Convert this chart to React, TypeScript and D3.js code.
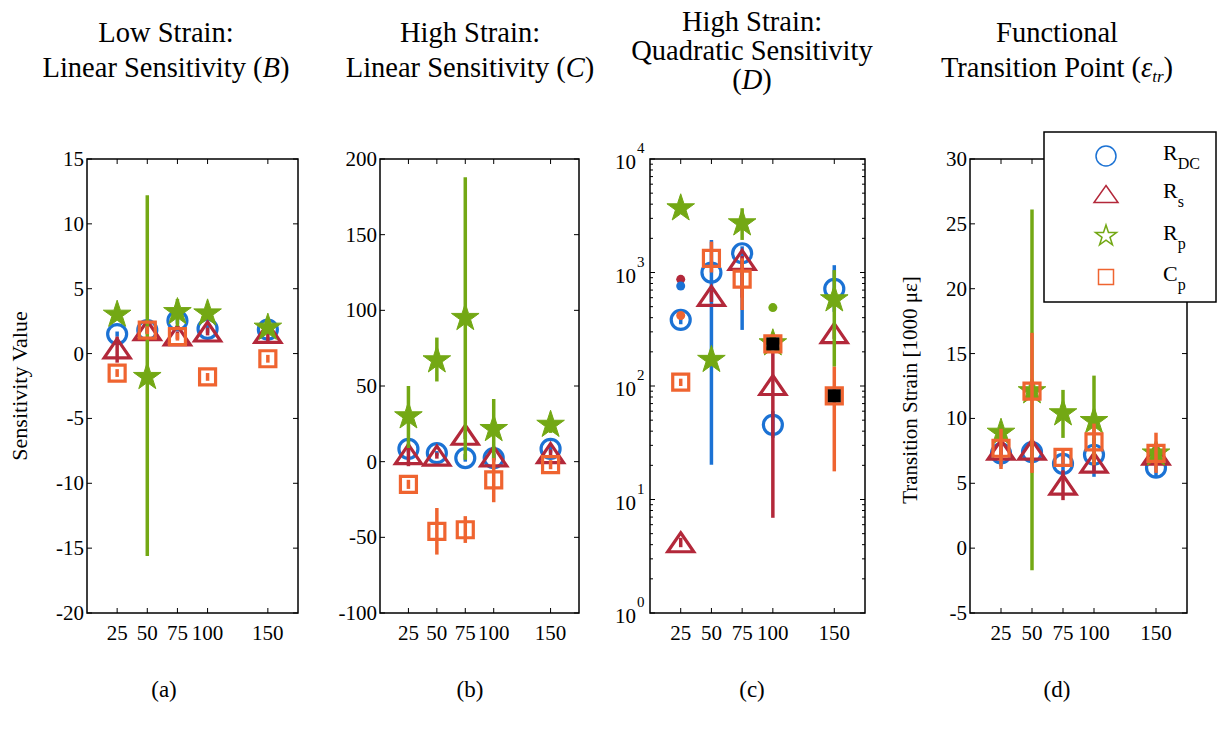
import React from "react";
import * as d3 from "d3";

const FONT = "'Liberation Serif', 'Times New Roman', serif";

const strains = [25, 50, 75, 100, 150];
const xTickValues = [25, 50, 75, 100, 150];
const seriesKeys = ["RDC", "Rs", "Rp", "Cp"];
const seriesColors = ["#1b72d4", "#b3283a", "#73a814", "#ef6430"];
const seriesShapes = ["circle", "triangle", "star", "square"];

// each entry: [value, errLow, errHigh] for strains 25, 50, 75, 100, 150
// (a) Low strain linear sensitivity B
const aRdc = [[1.5, 1.3, 1.7], [1.8, 1.5, 2.1], [2.55, 2.3, 2.8], [1.9, 1.6, 2.2], [1.85, 1.6, 2.1]];
const aRs = [[0.4, -0.7, 1.3], [1.8, 1.6, 2.0], [1.4, 1.1, 1.7], [1.7, 1.4, 2.0], [1.6, 0.9, 1.9]];
const aRp = [[3.0, 2.7, 3.3], [-1.8, -15.6, 12.2], [3.2, 2.1, 4.2], [3.1, 2.8, 3.4], [2.0, 1.7, 2.3]];
const aCp = [[-1.5, -1.8, -1.2], [1.8, 1.5, 2.1], [1.3, 1.0, 1.6], [-1.8, -2.1, -1.5], [-0.4, -0.7, -0.1]];
// (b) High strain linear sensitivity C
const bRdc = [[8.4, 6, 11], [5.7, 4, 7], [2.4, 0, 5], [2.4, 0, 5], [8.4, 6, 11]];
const bRs = [[5, -3, 12], [4, 2, 6], [17.8, 15, 20], [3.5, 1, 6], [5.7, 3, 8]];
const bRp = [[30, 9, 50], [67, 53, 82], [95, 1.3, 188], [21.6, 1.3, 41.4], [24.4, 19, 30]];
const bCp = [[-15, -18, -12], [-46, -61.4, -30.6], [-45, -53.7, -36], [-12, -26.8, 2.4], [-2, -5, 1]];
// (c) High strain quadratic sensitivity D (log scale)
const cRdc = [[383, 350, 420], [998, 20.2, 1936], [1478, 312, 1700], [45.5, 35, 60], [717, 450, 1160]];
const cRs = [[4.2, 3.8, 4.6], [622, 550, 700], [1290, 600, 1400], [102, 6.9, 200], [292, 260, 320]];
const cRp = [[3680, 3300, 4000], [170, 150, 190], [2714, 1936, 3680], [238, 210, 260], [581, 148, 1050]];
const cCp = [[108, 100, 116], [1334, 1000, 1870], [873, 467, 1334], [235, 215, 255], [82, 17.7, 148]];
const cDotStrain = [25, 25, 25, 100];
const cDotValue = [870, 760, 418, 491];
const cDotSeries = [1, 0, 3, 2];
const cBlackStrain = [100, 150];
const cBlackValue = [235, 82];
// (d) Functional transition point (1000 microstrain)
const dRdc = [[7.3, 6.3, 8.3], [7.4, 6.5, 8.3], [6.5, 5.8, 7.2], [7.2, 5.5, 8.5], [6.2, 5.5, 6.9]];
const dRs = [[7.6, 7.0, 8.2], [7.6, 7.0, 8.2], [4.9, 3.7, 6.0], [6.6, 5.9, 7.3], [7.2, 6.6, 7.8]];
const dRp = [[8.9, 8.3, 9.5], [12.1, -1.7, 26.1], [10.4, 8.5, 12.2], [9.8, 6.4, 13.3], [7.3, 6.8, 7.8]];
const dCp = [[7.7, 6.1, 9.2], [12.1, 5.8, 16.6], [7.0, 6.5, 7.5], [8.2, 6.4, 9.6], [7.3, 5.8, 8.9]];

const aTicks = [-20, -15, -10, -5, 0, 5, 10, 15];
const bTicks = [-100, -50, 0, 50, 100, 150, 200];
const cTicks = [1, 10, 100, 1000, 10000];
const dTicks = [-5, 0, 5, 10, 15, 20, 25, 30];

const TOP = 159;
const BOTTOM = 613;

function markerPath(shape: string, big: boolean) {
  if (shape === "triangle") {
    const w = big ? 13 : 12, h = big ? 9.5 : 8.5;
    return `M0,${-h}L${w},${h}L${-w},${h}Z`;
  }
  if (shape === "square") {
    const s = big ? 8 : 7.5;
    return `M${-s},${-s}H${s}V${s}H${-s}Z`;
  }
  if (shape === "star") {
    const R = big ? 14.5 : 11;
    return d3.symbol(d3.symbolStar, (R * R) / 0.8908130915292852)() as string;
  }
  return "";
}

function Marker({ shape, color, x, y, big }: any) {
  if (shape === "circle") {
    return <circle cx={x} cy={y} r={big ? 9.5 : 10} fill="none" stroke={color} strokeWidth={big ? 3.2 : 1.5} />;
  }
  const d = markerPath(shape, big);
  if (shape === "star") {
    return big ? (
      <path d={d} transform={`translate(${x},${y})`} fill={color} stroke={color} strokeWidth={1} />
    ) : (
      <path d={d} transform={`translate(${x},${y})`} fill="none" stroke={color} strokeWidth={1.5} />
    );
  }
  return <path d={d} transform={`translate(${x},${y})`} fill="none" stroke={color} strokeWidth={big ? 3.2 : 1.5} />;
}

function Panel({ x0, x1, series, yScale, yTicks, log, extras }: any) {
  const xs = d3.scaleLinear().domain([0, 175]).range([x0, x1]);
  const tl = 5;
  const minor: number[] = [];
  if (log) {
    for (let e = 0; e < 4; e++) for (let m = 2; m <= 9; m++) minor.push(m * Math.pow(10, e));
  }
  return (
    <g>
      {xTickValues.map((t) => (
        <g key={"xt" + t}>
          <line x1={xs(t)} x2={xs(t)} y1={BOTTOM} y2={BOTTOM - tl} stroke="#000" strokeWidth={1} />
          <line x1={xs(t)} x2={xs(t)} y1={TOP} y2={TOP + tl} stroke="#000" strokeWidth={1} />
          <text x={xs(t)} y={640} fontSize={21} textAnchor="middle" fontFamily={FONT}>{t}</text>
        </g>
      ))}
      {yTicks.map((t: number) => (
        <g key={"yt" + t}>
          <line x1={x0} x2={x0 + tl} y1={yScale(t)} y2={yScale(t)} stroke="#000" strokeWidth={1} />
          <line x1={x1} x2={x1 - tl} y1={yScale(t)} y2={yScale(t)} stroke="#000" strokeWidth={1} />
          {log ? (
            <text x={x0 - 14} y={yScale(t) + 10} fontSize={21} textAnchor="end" fontFamily={FONT}>
              10
            </text>
          ) : (
            <text x={x0 - 3} y={yScale(t) + 7} fontSize={21} textAnchor="end" fontFamily={FONT}>{t}</text>
          )}
          {log && (
            <text x={x0 - 13} y={yScale(t) - 6} fontSize={15} textAnchor="start" fontFamily={FONT}>
              {Math.round(Math.log10(t))}
            </text>
          )}
        </g>
      ))}
      {minor.map((t) => (
        <g key={"mt" + t}>
          <line x1={x0} x2={x0 + 3} y1={yScale(t)} y2={yScale(t)} stroke="#000" strokeWidth={1} />
          <line x1={x1} x2={x1 - 3} y1={yScale(t)} y2={yScale(t)} stroke="#000" strokeWidth={1} />
        </g>
      ))}
      {series.map((data: number[][], si: number) => (
        <g key={seriesKeys[si]}>
          {data.map((d, i) => (
            <line key={"e" + i} x1={xs(strains[i])} x2={xs(strains[i])} y1={yScale(d[1])} y2={yScale(d[2])}
              stroke={seriesColors[si]} strokeWidth={3.5} />
          ))}
          {data.map((d, i) => (
            <Marker key={"m" + i} shape={seriesShapes[si]} color={seriesColors[si]} x={xs(strains[i])} y={yScale(d[0])} big />
          ))}
        </g>
      ))}
      {extras && extras(xs)}
      <rect x={x0} y={TOP} width={x1 - x0} height={BOTTOM - TOP} fill="none" stroke="#000" strokeWidth={1.5} />
    </g>
  );
}

export default function App() {
  const ya = d3.scaleLinear().domain([-20, 15]).range([BOTTOM, TOP]);
  const yb = d3.scaleLinear().domain([-100, 200]).range([BOTTOM, TOP]);
  const yc = d3.scaleLog().domain([1, 10000]).range([BOTTOM, TOP]);
  const yd = d3.scaleLinear().domain([-5, 30]).range([BOTTOM, TOP]);

  const cExtras = (xs: any) => (
    <g>
      {cDotStrain.map((s, i) => (
        <circle key={"dot" + i} cx={xs(s)} cy={yc(cDotValue[i])} r={4.5} fill={seriesColors[cDotSeries[i]]} />
      ))}
      {cBlackStrain.map((s, i) => (
        <rect key={"blk" + i} x={xs(s) - 6.5} y={yc(cBlackValue[i]) - 6.5} width={13} height={13} fill="#000" />
      ))}
    </g>
  );

  const tStyle = { fontFamily: FONT, fontSize: 28.5 } as any;
  const legendY = [156, 194, 236, 277];
  const legendMain = ["R", "R", "R", "C"];
  const legendSub = ["DC", "s", "p", "p"];

  return (
    <svg width={1219} height={734} style={{ position: "absolute", left: 0, top: 0, background: "#fff" }}>
      <rect x={0} y={0} width={1219} height={734} fill="#fff" />
      <text x={166} y={42} textAnchor="middle" style={tStyle}>Low Strain:</text>
      <text x={166} y={77} textAnchor="middle" style={tStyle}>
        Linear Sensitivity (<tspan fontStyle="italic">B</tspan>)
      </text>
      <text x={470} y={42} textAnchor="middle" style={tStyle}>High Strain:</text>
      <text x={470} y={77} textAnchor="middle" style={tStyle}>
        Linear Sensitivity (<tspan fontStyle="italic">C</tspan>)
      </text>
      <text x={752} y={31} textAnchor="middle" style={tStyle}>High Strain:</text>
      <text x={752} y={60} textAnchor="middle" style={tStyle}>Quadratic Sensitivity</text>
      <text x={752} y={89} textAnchor="middle" style={tStyle}>
        (<tspan fontStyle="italic">D</tspan>)
      </text>
      <text x={1057} y={42} textAnchor="middle" style={tStyle}>Functional</text>
      <text x={1057} y={77} textAnchor="middle" style={tStyle}>
        Transition Point (<tspan fontStyle="italic">ε</tspan><tspan fontStyle="italic" fontSize={17} dy={5}>tr</tspan><tspan dy={-5}>)</tspan>
      </text>

      <text transform="translate(27,386) rotate(-90)" textAnchor="middle" fontFamily={FONT} fontSize={22}>Sensitivity Value</text>
      <text transform="translate(917,390) rotate(-90)" textAnchor="middle" fontFamily={FONT} fontSize={21}>Transition Strain [1000 με]</text>

      <Panel x0={87} x1={298} series={[aRdc, aRs, aRp, aCp]} yScale={ya} yTicks={aTicks} />
      <Panel x0={380} x1={579} series={[bRdc, bRs, bRp, bCp]} yScale={yb} yTicks={bTicks} />
      <Panel x0={650} x1={865} series={[cRdc, cRs, cRp, cCp]} yScale={yc} yTicks={cTicks} log extras={cExtras} />
      <Panel x0={970} x1={1187} series={[dRdc, dRs, dRp, dCp]} yScale={yd} yTicks={dTicks} />

      <rect x={1044} y={132} width={172} height={170} fill="#fff" stroke="#000" strokeWidth={1.5} />
      {seriesKeys.map((k, i) => (
        <g key={"lg" + k}>
          <Marker shape={seriesShapes[i]} color={seriesColors[i]} x={1106} y={legendY[i]} big={false} />
          <text x={1163} y={legendY[i] + 4} fontFamily={FONT} fontSize={22}>
            {legendMain[i]}
            <tspan fontSize={16} dy={9}>{legendSub[i]}</tspan>
          </text>
        </g>
      ))}

      {["(a)", "(b)", "(c)", "(d)"].map((l, i) => (
        <text key={l} x={[164, 470, 752, 1057][i]} y={697} textAnchor="middle" fontFamily={FONT} fontSize={23}>{l}</text>
      ))}
    </svg>
  );
}
